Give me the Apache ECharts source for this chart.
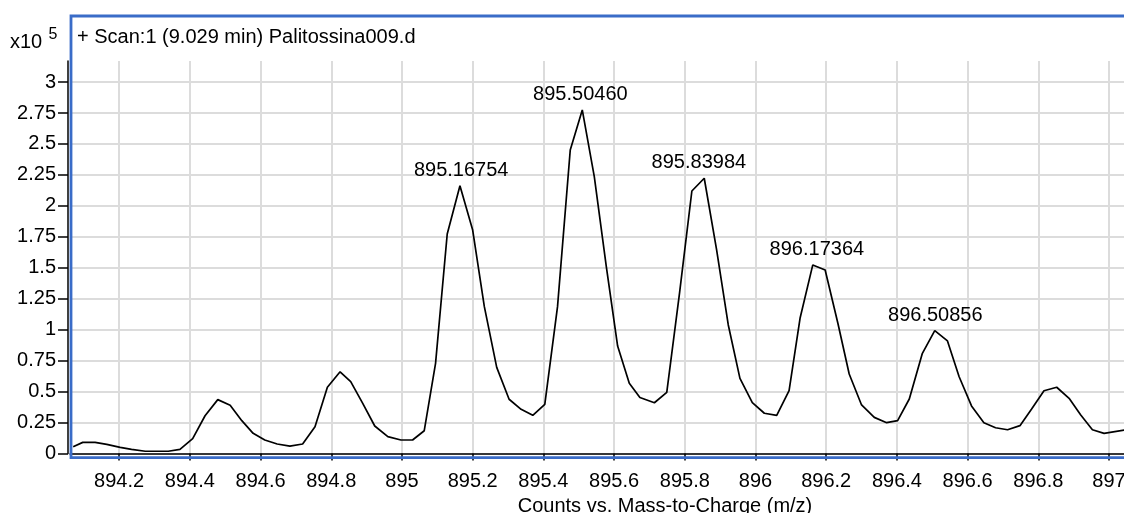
<!DOCTYPE html>
<html>
<head>
<meta charset="utf-8">
<title>Scan 1</title>
<script src="https://cdn.jsdelivr.net/npm/echarts@6/dist/echarts.min.js"></script>
<style>
    html, body { margin: 0; padding: 0; background: #fff; }
    #main { width: 1124px; height: 513px; }
</style>
</head>
<body>
<div id="main"></div>
<script>
// m/z of each profile point
var mz = [
    894.070, 894.097, 894.132, 894.165, 894.203, 894.235, 894.274, 894.306, 894.339, 894.372,
    894.408, 894.443, 894.479, 894.514, 894.547, 894.579, 894.612, 894.647, 894.683, 894.719,
    894.754, 894.789, 894.825, 894.855, 894.889, 894.923, 894.960, 894.997, 895.030, 895.063,
    895.095, 895.128, 895.164, 895.200, 895.233, 895.268, 895.303, 895.337, 895.370, 895.404,
    895.440, 895.476, 895.510, 895.544, 895.578, 895.610, 895.643, 895.673, 895.714, 895.749,
    895.785, 895.820, 895.855, 895.890, 895.923, 895.956, 895.991, 896.025, 896.060, 896.095,
    896.126, 896.162, 896.197, 896.233, 896.265, 896.300, 896.336, 896.371, 896.402, 896.435,
    896.472, 896.507, 896.543, 896.576, 896.611, 896.646, 896.679, 896.713, 896.748, 896.781,
    896.816, 896.852, 896.887, 896.920, 896.953, 896.986, 897.043
];
// counts, x10^5
var counts = [
    0.055, 0.090, 0.090, 0.074, 0.050, 0.034, 0.018, 0.018, 0.018, 0.034,
    0.120, 0.305, 0.435, 0.390, 0.265, 0.163, 0.109, 0.077, 0.060, 0.077,
    0.217, 0.535, 0.660, 0.580, 0.405, 0.222, 0.136, 0.109, 0.109, 0.184,
    0.728, 1.773, 2.163, 1.805, 1.186, 0.696, 0.438, 0.357, 0.308, 0.397,
    1.186, 2.451, 2.775, 2.236, 1.509, 0.868, 0.567, 0.452, 0.410, 0.494,
    1.294, 2.120, 2.223, 1.644, 1.038, 0.607, 0.410, 0.325, 0.308, 0.507,
    1.092, 1.523, 1.482, 1.052, 0.642, 0.392, 0.292, 0.249, 0.265, 0.440,
    0.809, 0.992, 0.909, 0.620, 0.384, 0.249, 0.208, 0.192, 0.225, 0.360,
    0.507, 0.535, 0.446, 0.311, 0.192, 0.163, 0.190
];
// labelled peaks
var peakMz = [895.16754, 895.50460, 895.83984, 896.17364, 896.50856];
var peakCounts = [2.163, 2.775, 2.223, 1.523, 0.992];
// tick labels
var xTicks = [894.2, 894.4, 894.6, 894.8, 895, 895.2, 895.4, 895.6, 895.8, 896, 896.2, 896.4, 896.6, 896.8, 897, 897.2, 897.4];
var yTicks = [0, 0.25, 0.5, 0.75, 1, 1.25, 1.5, 1.75, 2, 2.25, 2.5, 2.75, 3];

var font = 'Liberation Sans, Arial, Helvetica, sans-serif';

var lineData = [];
for (var i = 0; i < mz.length; i++) {
    lineData.push([mz[i], counts[i]]);
}
var peakData = [];
for (var j = 0; j < peakMz.length; j++) {
    peakData.push([peakMz[j], peakCounts[j]]);
}

var myChart = echarts.init(document.getElementById('main'));

option = {
    animation: false,
    backgroundColor: '#fff',
    title: {
        text: '+ Scan:1 (9.029 min) Palitossina009.d',
        left: 77,
        top: 27,
        padding: 0,
        textStyle: {
            fontFamily: font,
            fontSize: 20,
            fontWeight: 'normal',
            color: '#000'
        }
    },
    graphic: [
        {
            type: 'text',
            left: 10,
            top: 27,
            style: {
                text: '{a|x10} {b|5}',
                rich: {
                    a: { fontFamily: font, fontSize: 20, color: '#000', verticalAlign: 'bottom' },
                    b: { fontFamily: font, fontSize: 16, color: '#000', verticalAlign: 'top', padding: [0, 0, 9, 3] }
                }
            }
        },
        {
            // blue selection frame
            type: 'rect',
            z: 100,
            shape: { x: 71, y: 16, width: 1200, height: 441.7 },
            style: { fill: 'none', stroke: '#3a6cc8', lineWidth: 2.8 }
        }
    ],
    grid: {
        left: 70,
        top: 61,
        right: -136,
        bottom: 59.5,
        outerBoundsMode: 'none',
        containLabel: false
    },
    xAxis: {
        type: 'value',
        min: 894.061,
        max: 897.427,
        offset: 7.5,
        name: 'Counts vs. Mass-to-Charge (m/z)',
        nameLocation: 'middle',
        nameGap: 35,
        nameTextStyle: { fontFamily: font, fontSize: 20, color: '#000' },
        axisLine: { show: true, lineStyle: { color: '#000', width: 1.5 } },
        axisTick: { show: true, length: 7, customValues: xTicks, lineStyle: { color: '#000', width: 1.5 } },
        axisLabel: { customValues: xTicks, margin: 10, fontFamily: font, fontSize: 20, color: '#000' },
        splitLine: { show: true, lineStyle: { color: '#dcdcdc', width: 2 } }
    },
    yAxis: {
        type: 'value',
        min: 0,
        max: 3.17,
        offset: 2,
        axisLine: { show: true, lineStyle: { color: '#000', width: 1.5 } },
        axisTick: { show: true, length: 10, customValues: yTicks, lineStyle: { color: '#000', width: 1.5 } },
        axisLabel: { customValues: yTicks, margin: 12, fontFamily: font, fontSize: 20, color: '#000' },
        splitLine: { show: true, lineStyle: { color: '#dcdcdc', width: 2 } }
    },
    series: [
        {
            name: 'Scan 1',
            type: 'line',
            data: lineData,
            symbol: 'none',
            lineStyle: { color: '#000', width: 1.7 },
            z: 5
        },
        {
            name: 'peaks',
            type: 'scatter',
            data: peakData,
            symbolSize: 1,
            itemStyle: { color: '#fff', opacity: 0 },
            label: {
                show: true,
                position: 'top',
                distance: 5,
                fontFamily: font,
                fontSize: 20,
                color: '#000',
                opacity: 1,
                formatter: function (p) {
                    return p.value[0].toFixed(5);
                }
            },
            z: 6
        }
    ]
};
myChart.setOption(option);
</script>
</body>
</html>
